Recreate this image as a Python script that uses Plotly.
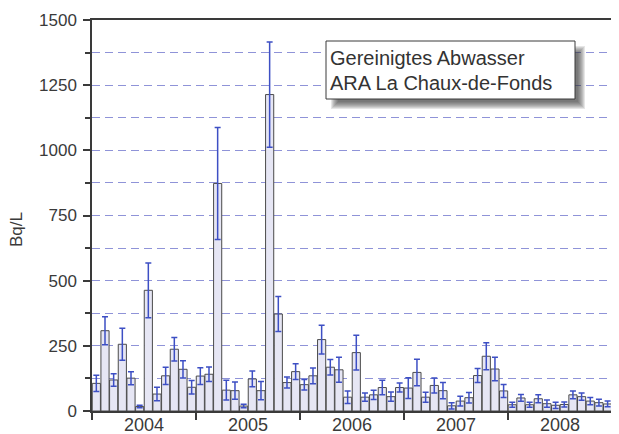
import plotly.graph_objects as go

years = ["2004", "2005", "2006", "2007", "2008"]
months_per_year = 12

values = [
    106, 308, 119, 256, 126, 17, 463, 65, 135, 237, 160, 91,      # 2004
    134, 141, 873, 80, 78, 19, 123, 78, 1214, 372, 109, 151,      # 2005
    101, 135, 274, 168, 158, 53, 224, 53, 62, 90, 55, 90,         # 2006
    88, 148, 53, 98, 78, 20, 38, 51, 136, 210, 161, 77,           # 2007
    24, 50, 24, 47, 28, 22, 25, 62, 55, 38, 32, 27,               # 2008
]
errors = [
    31, 54, 24, 61, 25, 5, 105, 26, 33, 45, 33, 26,
    32, 28, 215, 38, 33, 7, 30, 35, 202, 67, 21, 30,
    20, 30, 55, 30, 48, 24, 67, 16, 18, 28, 18, 17,
    40, 51, 19, 29, 31, 12, 19, 20, 27, 52, 45, 25,
    10, 13, 10, 15, 14, 12, 10, 15, 14, 14, 13, 11,
]
legend_lines = ["Gereinigtes Abwasser", "ARA La Chaux-de-Fonds"]
y_title = "Bq/L"

# page body has an 8px margin: figure is drawn at offset (8, 8)
OFF = 8
W, H = 619 - OFF, 434 - OFF
# target plot area in window pixels: x 92..618, y 20..411
L, R, T, B = 92 - OFF, 1, 20 - OFF, 434 - 411
PW, PH = W - L - R, H - T - B

def px(x):
    return (x - OFF - L) / PW

def py(y):
    return (H - B - (y - OFF)) / PH

month_pos = [i + 0.5 for i in range(len(values))]
year_centers = [i * months_per_year + 6 for i in range(len(years))]
year_bounds = [i * months_per_year for i in range(len(years))]

FONT = "Liberation Sans, Arial, sans-serif"
TXT = "#3a3a3a"
GRID = "#8f93d8"

fig = go.Figure()
fig.add_trace(go.Bar(
    x=month_pos, y=values, width=0.94,
    marker=dict(color="#e6e6f4", line=dict(color="#4a4a4a", width=1)),
    error_y=dict(type="data", array=errors, visible=True,
                 color="#3d4fc4", thickness=1.5, width=3),
    showlegend=False,
))

fig.update_layout(
    width=W, height=H,
    margin=dict(l=L, r=R, t=T, b=B, autoexpand=False),
    paper_bgcolor="white", plot_bgcolor="white",
    font=dict(family=FONT, color=TXT, size=17),
    bargap=0.06,
    xaxis=dict(
        range=[0, 60.7], tickmode="array", tickvals=year_centers, ticktext=years,
        ticks="", ticklen=0, showgrid=False, zeroline=False,
        showline=True, linecolor="#3a3a3a", linewidth=1.5, mirror=True,
        tickfont=dict(size=18, color=TXT), automargin=False,
        ticklabelstandoff=-3,
        minor=dict(tickmode="array", tickvals=year_bounds, ticks="outside",
                   ticklen=7, tickcolor="#3a3a3a", tickwidth=1.5, showgrid=False),
    ),
    yaxis=dict(
        range=[0, 1500], tickmode="linear", tick0=0, dtick=250,
        ticks="outside", ticklen=7, tickcolor="#3a3a3a", tickwidth=1.5,
        showline=True, linecolor="#3a3a3a", linewidth=1.5,
        showgrid=True, gridcolor=GRID, griddash="8px,5px", gridwidth=1,
        zeroline=False, tickfont=dict(size=17, color=TXT), automargin=False,
        ticklabelstandoff=3,
        minor=dict(dtick=125, ticks="outside", ticklen=5, tickcolor="#3a3a3a",
                   tickwidth=1.5, showgrid=True, gridcolor=GRID,
                   griddash="8px,5px", gridwidth=1),
    ),
)

# Y axis title
fig.add_annotation(text=y_title, xref="paper", yref="paper",
                   x=px(16), y=py(230), textangle=-90, showarrow=False,
                   font=dict(size=17, color=TXT), xanchor="center", yanchor="middle")

# legend-like box with soft shadow
bx0, bx1, by0, by1 = 326, 575, 41, 99
for k in range(8):
    fig.add_shape(type="rect", xref="paper", yref="paper",
                  x0=px(bx0 + 12 - k), x1=px(bx1 + 3 + k),
                  y0=py(by0 + 12 - k), y1=py(by1 + 3 + k),
                  line=dict(width=0), fillcolor="rgba(50,50,50,0.12)", layer="above")
fig.add_shape(type="rect", xref="paper", yref="paper",
              x0=px(bx0), x1=px(bx1), y0=py(by0), y1=py(by1),
              line=dict(color="#3a3a3a", width=1), fillcolor="white", layer="above")
for i, line in enumerate(legend_lines):
    fig.add_annotation(text=line, xref="paper", yref="paper",
                       x=px(328), y=py(58 + 25 * i), showarrow=False,
                       xanchor="left", yanchor="middle",
                       font=dict(size=20, color="#333333"))

fig.write_html("out.html")
